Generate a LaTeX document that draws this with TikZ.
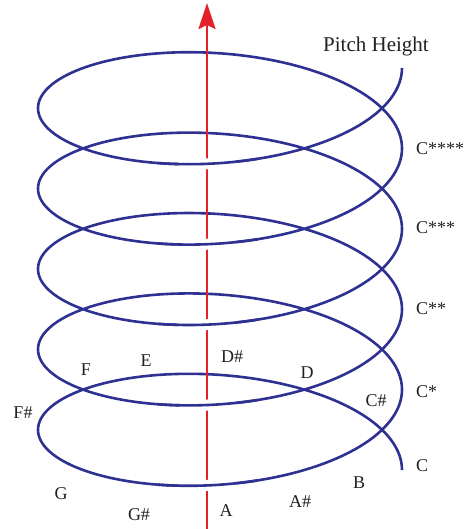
\documentclass[tikz,border=0pt]{standalone}
\usepackage{fontspec}
\setmainfont{Liberation Serif}
\usepackage{xcolor}
\definecolor{CNavy}{HTML}{2E3192}
\definecolor{CRed}{HTML}{E5202A}
\definecolor{CInk}{HTML}{231F20}
\usetikzlibrary{arrows.meta}
\tikzset{declare function={hx(\t)=220+182*cos(\t); hy(\t)=470-0.223333*\t-75*sin(\t);}}
\tikzstyle{helixLine}=[draw=CNavy, line width=2.6pt, line join=round]
\tikzstyle{gapLine}=[draw=white, line width=11pt]
\tikzstyle{axisArr}=[-{Stealth[length=26pt,width=17pt,inset=4pt]}, draw=CRed, line width=2.4pt]
\tikzstyle{noteLabel}=[font=\fontsize{18}{20}\selectfont, text=CInk, inner sep=0pt]
\tikzstyle{octaveLabel}=[noteLabel, anchor=west]
\tikzstyle{titleLabel}=[font=\fontsize{21}{24}\selectfont, text=CInk, inner sep=0pt]

\begin{document}
\begin{tikzpicture}[x=1pt,y=-1pt]
\useasboundingbox (0,0) rectangle (463,529);

% five turns of the pitch helix
\draw[helixLine] plot[domain=0:1800, samples=721] ({hx(\x)}, {hy(\x)});

% pitch height axis
\coordinate (axisFoot) at (207,529);
\coordinate (axisTip) at (207,3);
\draw[axisArr] (axisFoot) -- (axisTip);

% front arcs pass in front of the axis
\foreach \k in {0,...,4} {
  \draw[gapLine] plot[domain={257+360*\k}:{275+360*\k}, samples=25] ({hx(\x)}, {hy(\x)});
  \draw[helixLine] plot[domain={250+360*\k}:{282+360*\k}, samples=40] ({hx(\x)}, {hy(\x)});
}

\node[titleLabel] (pitchHeight) at (376,46) {Pitch Height};

\node[octaveLabel] (octC) at (416,466) {C};
\node[octaveLabel] (octC1) at (416,392) {C*};
\node[octaveLabel] (octC2) at (416,309) {C**};
\node[octaveLabel] (octC3) at (416,228) {C***};
\node[octaveLabel] (octC4) at (416,149) {C****};

\node[noteLabel] (noteCs) at (376,401) {C\#};
\node[noteLabel] (noteD) at (307,373) {D};
\node[noteLabel] (noteDs) at (232,357) {D\#};
\node[noteLabel] (noteE) at (146,361) {E};
\node[noteLabel] (noteF) at (86,370) {F};
\node[noteLabel] (noteFs) at (23,413) {F\#};
\node[noteLabel] (noteG) at (61,494) {G};
\node[noteLabel] (noteGs) at (139,515) {G\#};
\node[noteLabel] (noteA) at (226,511) {A};
\node[noteLabel] (noteAs) at (300,502) {A\#};
\node[noteLabel] (noteB) at (359,483) {B};
\end{tikzpicture}
\end{document}
